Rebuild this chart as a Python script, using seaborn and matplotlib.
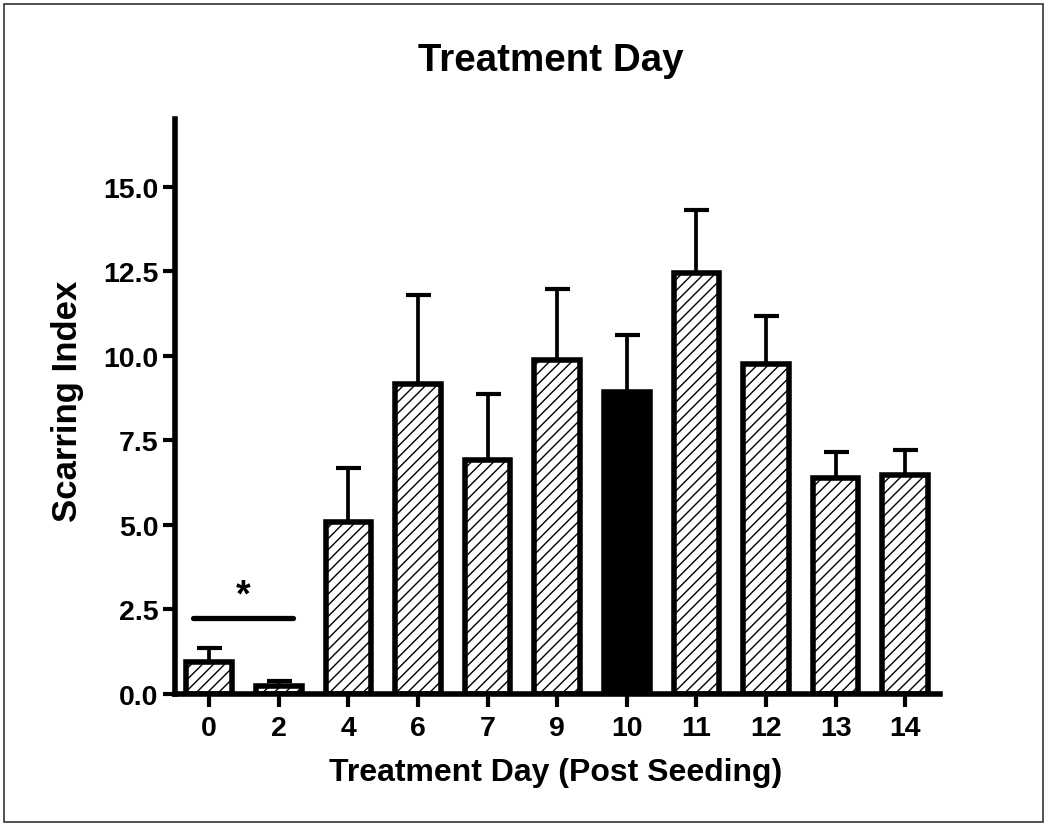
import numpy as np
import pandas as pd
import matplotlib
matplotlib.use("Agg")
import matplotlib.pyplot as plt
from matplotlib.patches import Rectangle
from matplotlib.ticker import FormatStrFormatter
import seaborn as sns

# ---- data ----
days = ['0', '2', '4', '6', '7', '9', '10', '11', '12', '13', '14']
means = [0.95, 0.25, 5.10, 9.17, 6.91, 9.88, 8.93, 12.46, 9.76, 6.38, 6.47]
upper = [1.36, 0.38, 6.69, 11.79, 8.88, 11.96, 10.62, 14.30, 11.19, 7.15, 7.21]
highlight_day = '10'
yticks = [0.0, 2.5, 5.0, 7.5, 10.0, 12.5, 15.0]

sns.set_style('ticks')
plt.rcParams['font.family'] = ['Liberation Sans', 'DejaVu Sans']
plt.rcParams['font.weight'] = 'bold'
plt.rcParams['text.color'] = 'black'
plt.rcParams['axes.labelcolor'] = 'black'
plt.rcParams['hatch.color'] = 'black'
plt.rcParams['hatch.linewidth'] = 1.0

df = pd.DataFrame({'day': days, 'mean': means, 'upper': upper})
palette = {d: ('black' if d == highlight_day else 'white') for d in days}

fig = plt.figure(figsize=(10.5, 8.28), dpi=100)
W, H = 1050, 828
ax = fig.add_axes([175 / W, 1 - 695 / H, (940 - 175) / W, (695 - 120) / H])

sns.barplot(data=df, x='day', y='mean', hue='day', palette=palette, order=days,
            hue_order=days, width=0.655, edgecolor='black', linewidth=4.0,
            saturation=1, errorbar=None, legend=False, ax=ax, zorder=2)

for p in ax.patches:
    fc = p.get_facecolor()
    if fc[0] > 0.5:
        p.set_hatch('///')

x = np.arange(len(days))
m = np.array(means)
u = np.array(upper)
eb = ax.errorbar(x, m, yerr=[np.zeros_like(m), u - m], fmt='none', ecolor='black',
                 elinewidth=2.7, capsize=9, capthick=3, zorder=3)
for cl in eb[1]:
    if np.allclose(cl.get_ydata(), m):
        cl.set_visible(False)

# significance annotation
ax.plot([-0.23, 1.2], [2.25, 2.25], color='black', lw=3.8, solid_capstyle='round', zorder=3)
ax.text(0.484, 2.9, '*', ha='center', va='center', fontsize=27, fontweight='bold')

ax.set_xlim(-0.49, 10.5)
ax.set_ylim(0, 17)
ax.set_yticks(yticks)
ax.yaxis.set_major_formatter(FormatStrFormatter('%.1f'))

for side in ['top', 'right']:
    ax.spines[side].set_visible(False)
for side in ['left', 'bottom']:
    ax.spines[side].set_linewidth(4.0)
    ax.spines[side].set_color('black')

ax.tick_params(axis='y', length=9, width=3, pad=3, labelsize=20.5, colors='black')
ax.tick_params(axis='x', length=9, width=3, pad=6, labelsize=20.5, colors='black')
for lab in ax.get_xticklabels() + ax.get_yticklabels():
    lab.set_fontweight('bold')

ax.set_xlabel('Treatment Day (Post Seeding)', fontsize=23, fontweight='bold')
ax.set_ylabel('Scarring Index', fontsize=25, fontweight='bold')
ax.xaxis.label.set_verticalalignment('center')
ax.yaxis.label.set_verticalalignment('center')
ax.xaxis.set_label_coords(0.497, -0.135)
ax.yaxis.set_label_coords(-0.1405, 0.51)

fig.text(551 / W, 1 - 61 / H, 'Treatment Day', ha='center', va='center',
         fontsize=27.7, fontweight='bold')

fig.add_artist(Rectangle((4 / W, 1 - 823 / H), 1039 / W, 818 / H,
                         transform=fig.transFigure, fill=False,
                         edgecolor='#333333', linewidth=1.2))

fig.savefig('out.png', dpi=100)
